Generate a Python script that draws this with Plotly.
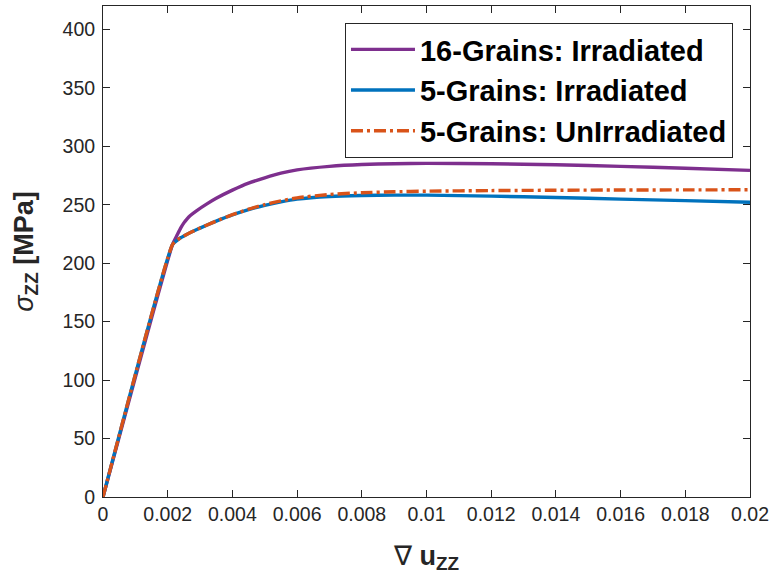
import plotly.graph_objects as go

# strain (x) values
strain = [0, 0.00215, 0.0023, 0.0024, 0.0025, 0.0026, 0.0027, 0.0029, 0.0032, 0.0035,
          0.004, 0.0045, 0.005, 0.0055, 0.006, 0.007, 0.008, 0.009, 0.010, 0.012,
          0.014, 0.016, 0.018, 0.020]

# stress (MPa) for each series
grains16_irr = [0, 216, 224.5, 230, 234.5, 238, 240.8, 245, 250.5, 255.5,
                262.5, 268.5, 273, 277, 279.8, 282.8, 284.4, 285.1, 285.4, 285,
                284.2, 282.8, 281.2, 279.4]
grains5_irr = [0, 216, 219.8, 221.7, 223.3, 224.8, 226.2, 228.8, 232.5, 236,
               241.3, 245.8, 249.5, 252.5, 254.8, 257, 257.9, 258.2, 258.2, 257.4,
               256.2, 254.8, 253.5, 252.1]
grains5_unirr = [0, 216, 219.8, 221.7, 223.3, 224.8, 226.2, 228.8, 232.5, 236,
                 241.5, 246.2, 250.1, 253.3, 255.9, 258.8, 260.3, 261.1, 261.6, 262.1,
                 262.4, 262.6, 262.7, 262.8]

series_names = ["16-Grains: Irradiated", "5-Grains: Irradiated", "5-Grains: UnIrradiated"]

x_tickvals = [0, 0.002, 0.004, 0.006, 0.008, 0.01, 0.012, 0.014, 0.016, 0.018, 0.02]
x_ticktext = ["0", "0.002", "0.004", "0.006", "0.008", "0.01", "0.012", "0.014", "0.016", "0.018", "0.02"]
y_tickvals = [0, 50, 100, 150, 200, 250, 300, 350, 400]

FONT = "Liberation Sans, Arial, Helvetica, sans-serif"
AXC = "#262626"

fig = go.Figure()
fig.add_trace(go.Scatter(x=strain, y=grains16_irr, mode="lines", name=series_names[0],
                         line=dict(color="#7E2F8E", width=3.4, shape="spline", smoothing=0.5)))
fig.add_trace(go.Scatter(x=strain, y=grains5_irr, mode="lines", name=series_names[1],
                         line=dict(color="#0072BD", width=3.4, shape="spline", smoothing=0.5)))
fig.add_trace(go.Scatter(x=strain, y=grains5_unirr, mode="lines", name=series_names[2],
                         line=dict(color="#D95319", width=3.4, dash="12px,4px,3px,4px",
                                   shape="spline", smoothing=0.5)))

fig.update_layout(
    width=769, height=582,
    margin=dict(l=103, r=19, t=6, b=85, autoexpand=False),
    paper_bgcolor="white", plot_bgcolor="white",
    font=dict(family=FONT, color=AXC, size=19),
    showlegend=True,
    legend=dict(
        x=0.9737, y=0.9654, xanchor="right", yanchor="top",
        bordercolor=AXC, borderwidth=1, bgcolor="white",
        font=dict(family=FONT, size=29, color="black", weight="bold"),
        tracegroupgap=0, itemwidth=64,
    ),
    xaxis=dict(
        range=[0, 0.02], tickvals=x_tickvals, ticktext=x_ticktext, automargin=False,
        showline=True, linecolor=AXC, linewidth=1, mirror="ticks",
        ticks="inside", ticklen=7, tickcolor=AXC, showgrid=False, zeroline=False,
        tickfont=dict(size=19.5, color=AXC),
        title=dict(text="∇ <b>u<sub>ZZ</sub></b>", font=dict(size=27, color=AXC), standoff=21),
    ),
    yaxis=dict(
        range=[0, 420], tickvals=y_tickvals, automargin=False,
        showline=True, linecolor=AXC, linewidth=1, mirror="ticks",
        ticks="inside", ticklen=7, tickcolor=AXC, showgrid=False, zeroline=False,
        tickfont=dict(size=19.5, color=AXC), ticklabelstandoff=3,
        title=dict(text="<i>σ</i><sub><b>ZZ</b></sub> <b>[MPa]</b>", font=dict(size=27, color=AXC), standoff=21),
    ),
)

fig.write_html("out.html", config={"displayModeBar": False},
               post_script="document.body.style.margin='0';")
